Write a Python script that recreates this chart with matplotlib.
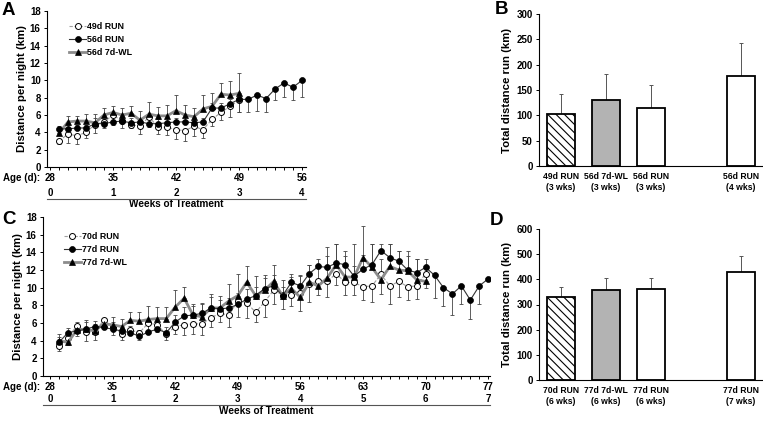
import matplotlib
matplotlib.use("Agg")  # headless
import matplotlib.pyplot as plt
from matplotlib.ticker import MultipleLocator
from matplotlib.transforms import offset_copy

plt.rcParams["font.family"] = ["Liberation Sans", "DejaVu Sans"]
plt.rcParams["font.weight"] = "bold"
plt.rcParams["axes.labelweight"] = "bold"
plt.rcParams["hatch.linewidth"] = 0.8

# ---------------- panel A: nightly distance, 28-56 d ----------------
a_days_run49 = list(range(29, 50))
a_run49 = [3.0, 3.8, 3.6, 4.0, 4.9, 5.2, 6.0, 5.3, 4.9, 4.7, 5.8, 4.6, 4.6, 4.3, 4.2, 4.7, 4.3, 5.5, 6.3, 7.0, 7.7]
a_run49_lo = [0.4, 1.0, 0.9, 0.7, 1.0, 0.7, 1.2, 0.8, 0.4, 0.9, 1.2, 0.8, 0.9, 1.1, 1.2, 1.1, 1.0, 0.8, 0.9, 1.2, 1.3]

a_days_run56 = list(range(29, 57))
a_run56 = [4.4, 4.4, 4.5, 4.5, 5.0, 5.0, 5.2, 5.3, 5.1, 5.2, 5.0, 5.0, 5.1, 5.2, 5.2, 5.1, 5.2,
           6.8, 6.8, 7.3, 7.8, 7.8, 8.3, 7.9, 9.0, 9.7, 9.2, 10.0]
a_run56_hi = [0.3, 0.4, 0.4, 0.4, 0.6, 0.5, 0.6, 0.5, 0.5, 0.5, 0.5, 0.5, 0.5, 0.5, 0.6, 0.5, 0.5,
              0.6, 0.6, 0.6, 0.0, 0.0, 0.0, 0.0, 0.0, 0.0, 0.0, 0.0]
a_run56_lo = [0.0, 0.0, 0.0, 0.0, 0.0, 0.0, 0.0, 0.0, 0.0, 0.0, 0.0, 0.0, 0.0, 0.0, 0.0, 0.0, 0.0,
              0.0, 0.0, 0.0, 1.4, 1.4, 1.8, 1.5, 1.3, 1.6, 1.5, 1.9]

a_days_wl = list(range(29, 50))
a_wl = [3.9, 5.2, 5.3, 5.3, 5.1, 6.0, 6.3, 6.0, 6.2, 5.4, 6.1, 5.9, 5.9, 6.5, 6.0, 5.8, 6.7, 7.0, 8.4, 8.3, 8.5]
a_wl_hi = [0.5, 0.7, 0.6, 0.8, 1.0, 0.8, 0.7, 0.8, 0.8, 1.1, 1.4, 1.0, 1.2, 1.8, 1.1, 1.0, 1.6, 1.5, 1.3, 1.6, 2.3]

# ---------------- panel B: total distance ----------------
b_labels = ["49d RUN\n(3 wks)", "56d 7d-WL\n(3 wks)", "56d RUN\n(3 wks)", "56d RUN\n(4 wks)"]
b_vals = [102, 131, 115, 178]
b_err = [40, 50, 44, 64]

# ---------------- panel C: nightly distance, 28-77 d ----------------
c_days_run70 = list(range(29, 71))
c_run70 = [3.4, 4.3, 5.7, 5.0, 5.0, 6.3, 5.6, 4.8, 5.2, 4.9, 6.0, 5.8, 4.7, 5.6, 5.8, 5.9, 5.9, 6.6, 7.1, 6.9,
           8.5, 8.3, 7.2, 8.4, 9.7, 9.2, 9.2, 9.4, 10.4, 10.8, 10.7, 11.6, 10.6, 10.6, 10.1, 10.2, 11.5,
           10.2, 10.7, 10.1, 10.2, 11.6]
c_run70_lo = [0.6, 0.8, 1.2, 1.0, 0.9, 1.0, 1.0, 0.7, 0.6, 0.8, 1.2, 0.8, 0.6, 0.9, 1.2, 1.2, 1.3, 1.1, 1.0, 1.3,
              1.8, 1.7, 1.1, 1.7, 1.5, 1.6, 1.3, 2.0, 2.0, 1.6, 1.8, 1.3, 1.4, 1.4, 1.5, 1.8, 2.2,
              2.0, 1.7, 1.5, 1.5, 1.6]

c_days_run77 = list(range(29, 78))
c_run77 = [3.8, 4.9, 5.1, 5.3, 5.6, 5.5, 5.3, 5.1, 4.9, 4.5, 5.0, 5.3, 4.9, 6.1, 6.8, 6.9, 7.1, 7.7, 7.6, 7.7,
           8.1, 8.7, 9.1, 9.9, 10.2, 9.1, 10.6, 10.2, 11.6, 12.4, 12.3, 12.8, 12.6, 11.3, 12.1, 12.6, 14.2,
           13.4, 13.0, 12.0, 11.7, 12.3, 11.4, 10.0, 9.3, 10.2, 8.6, 10.2, 11.0]
c_run77_hi = [0.6, 0.5, 0.8, 0.8, 0.6, 0.8, 0.8, 0.6, 0.8, 0.7, 0.8, 0.6, 0.7, 0.8, 1.0, 1.0, 1.1, 1.2, 1.0, 1.1,
              1.3, 1.2, 1.0, 1.2, 1.2, 1.0, 0.9, 1.2, 1.0, 0.8, 2.3, 2.1, 1.6, 1.2, 1.6, 2.4, 0.8,
              1.6, 1.2, 1.6, 1.5, 1.0, 0.0, 0.0, 0.0, 0.0, 0.0, 0.0, 0.0]
c_run77_lo = [0.0, 0.0, 0.0, 0.0, 0.0, 0.0, 0.0, 0.0, 0.0, 0.0, 0.0, 0.0, 0.0, 0.0, 0.0, 0.0, 0.0, 0.0, 0.0, 0.0,
              0.0, 0.0, 0.0, 0.0, 0.0, 0.0, 0.0, 0.0, 0.0, 0.0, 0.0, 0.0, 0.0, 0.0, 0.0, 0.0, 0.0,
              0.0, 0.0, 0.0, 0.0, 0.0, 2.6, 2.1, 2.4, 2.1, 2.1, 2.1, 0.0]

c_days_wl = list(range(29, 71))
c_wl = [4.0, 3.8, 5.2, 5.3, 5.1, 5.9, 5.8, 5.6, 6.3, 6.2, 6.4, 6.5, 6.5, 7.8, 8.8, 6.9, 6.7, 7.7, 7.7, 8.5,
        9.1, 10.6, 9.1, 9.7, 10.7, 9.1, 9.9, 8.9, 10.6, 10.2, 11.1, 12.6, 11.2, 11.2, 13.4, 12.3, 10.9,
        12.4, 12.0, 11.9, 10.9, 10.7]
c_wl_hi = [0.8, 0.6, 0.9, 1.0, 0.8, 0.6, 0.9, 0.9, 0.9, 1.0, 1.5, 1.3, 1.3, 1.9, 1.3, 1.3, 1.6, 1.6, 1.4, 1.9,
           2.5, 1.8, 2.2, 1.7, 1.9, 1.8, 1.3, 2.4, 2.0, 2.4, 2.5, 2.4, 2.4, 3.7, 3.6, 2.6, 2.4,
           2.6, 2.2, 2.3, 2.3, 1.5]

# ---------------- panel D: total distance ----------------
d_labels = ["70d RUN\n(6 wks)", "77d 7d-WL\n(6 wks)", "77d RUN\n(6 wks)", "77d RUN\n(7 wks)"]
d_vals = [330, 357, 363, 430]
d_err = [40, 49, 43, 63]

TICK_FS = 7
LABEL_FS = 8.2
LEG_FS = 6.4
BAR_FS = 6.2

open_style = dict(color="#a0a0a0", lw=0.8, ls=(0, (3, 1.5)), marker="o", ms=4.3,
                  mfc="white", mec="black", mew=0.7)
filled_style = dict(color="#333333", lw=0.8, marker="o", ms=4.3, mfc="black", mec="black", mew=0.5)
tri_style = dict(color="#8c8c8c", lw=2.0, marker="^", ms=4.3, mfc="black", mec="black", mew=0.5)

fig = plt.figure(figsize=(7.63, 4.24), dpi=100)


def draw_series(ax, days, vals, lo, hi, style, label):
    ax.errorbar(days, vals, yerr=[lo, hi], fmt="none", ecolor="#444444",
                elinewidth=0.6, capsize=1.1, capthick=0.6, zorder=2)
    ln, = ax.plot(days, vals, zorder=3, label=label, **style)
    return ln


def style_line_axes(ax, xlim, age_ticks, n_weeks, wk_loc):
    ax.set_xlim(*xlim)
    ax.set_ylim(0, 18)
    ax.set_yticks(range(0, 19, 2))
    ax.set_xticks(age_ticks)
    ax.xaxis.set_minor_locator(MultipleLocator(1))
    for s in ("top", "right"):
        ax.spines[s].set_visible(False)
    for s in ("left", "bottom"):
        ax.spines[s].set_linewidth(0.8)
    ax.tick_params(which="both", direction="out", length=2.5, width=0.7,
                   labelsize=TICK_FS, pad=2)
    ax.set_ylabel("Distance per night (km)", fontsize=LABEL_FS, labelpad=2)
    ax.text(age_ticks[0], 0, "Age (d):", fontsize=TICK_FS, ha="right", va="top",
            transform=offset_copy(ax.transData, fig=fig, x=-7, y=-4.5, units="points"))

    sec = ax.secondary_xaxis(wk_loc, functions=(lambda d: (d - 28) / 7, lambda w: w * 7 + 28))
    sec.set_alignment("top")
    sec.set_xticks(list(range(n_weeks + 1)))
    sec.tick_params(axis="x", length=0, pad=1.0, labelsize=TICK_FS)
    sec.spines["top"].set_linewidth(0.8)
    sec.spines["top"].set_color("#555555")
    sec.xaxis.set_label_position("bottom")
    sec.set_xlabel("Weeks of Treatment", fontsize=7.2, labelpad=0.3)


def add_legend(ax, order, anchor):
    h, l = ax.get_legend_handles_labels()
    ax.legend([h[i] for i in order], [l[i] for i in order], loc="upper left",
              bbox_to_anchor=anchor, frameon=False, fontsize=LEG_FS, handlelength=2.0,
              handletextpad=0.1, labelspacing=0.45, borderaxespad=0)


def bar_panel(ax, vals, errs, labels, ymax, ystep):
    pos = [0, 1, 2, 4]
    ax.errorbar(pos, vals, yerr=[[0, 0, 0, 0], errs], fmt="none", ecolor="#555555",
                elinewidth=0.7, capsize=1.5, capthick=0.7, zorder=1)
    bars = ax.bar(pos, vals, width=0.64, color=["white", "#b3b3b3", "white", "white"],
                  edgecolor="black", linewidth=1.3, zorder=2)
    bars[0].set_hatch("\\\\\\\\")
    ax.set_xlim(-0.49, 4.49)
    ax.set_ylim(0, ymax)
    ax.set_yticks(range(0, ymax + 1, ystep))
    ax.set_xticks(pos, labels)
    for s in ("top", "right"):
        ax.spines[s].set_visible(False)
    for s in ("left", "bottom"):
        ax.spines[s].set_linewidth(0.8)
    ax.tick_params(axis="y", direction="out", length=2.5, width=0.7, labelsize=TICK_FS, pad=2)
    ax.tick_params(axis="x", length=0, labelsize=BAR_FS, pad=4)
    for t in ax.get_xticklabels():
        t.set_linespacing(1.4)
    ax.set_ylabel("Total distance run (km)", fontsize=LABEL_FS, labelpad=3)


# panel A
ax_a = fig.add_axes([47 / 763, 1 - 167 / 424, 259 / 763, 156 / 424])
draw_series(ax_a, a_days_run49, a_run49, a_run49_lo, [0] * len(a_run49), open_style, "49d RUN")
draw_series(ax_a, a_days_wl, a_wl, [0] * len(a_wl), a_wl_hi, tri_style, "56d 7d-WL")
draw_series(ax_a, a_days_run56, a_run56, a_run56_lo, a_run56_hi, filled_style, "56d RUN")
style_line_axes(ax_a, (27.67, 56.44), [28, 35, 42, 49, 56], 4, -0.205)
add_legend(ax_a, [0, 2, 1], (0.07, 0.95))

# panel B
ax_b = fig.add_axes([539 / 763, 1 - 166 / 424, 224 / 763, 152 / 424])
bar_panel(ax_b, b_vals, b_err, b_labels, 300, 50)

# panel C
ax_c = fig.add_axes([43 / 763, 1 - 376 / 424, 447 / 763, 159 / 424])
draw_series(ax_c, c_days_run70, c_run70, c_run70_lo, [0] * len(c_run70), open_style, "70d RUN")
draw_series(ax_c, c_days_wl, c_wl, [0] * len(c_wl), c_wl_hi, tri_style, "77d 7d-WL")
draw_series(ax_c, c_days_run77, c_run77, c_run77_lo, c_run77_hi, filled_style, "77d RUN")
style_line_axes(ax_c, (27.22, 77.2), [28, 35, 42, 49, 56, 63, 70, 77], 7, -0.185)
add_legend(ax_c, [0, 2, 1], (0.038, 0.93))

# panel D
ax_d = fig.add_axes([539 / 763, 1 - 380 / 424, 224 / 763, 151 / 424])
bar_panel(ax_d, d_vals, d_err, d_labels, 600, 100)

for txt, x, y in [("A", 2, 2), ("B", 495, 1), ("C", 2, 211), ("D", 490, 212)]:
    fig.text(x / 763, 1 - y / 424, txt, fontsize=13.5, fontweight="bold", va="top", ha="left")

fig.savefig("out.png", dpi=100)
